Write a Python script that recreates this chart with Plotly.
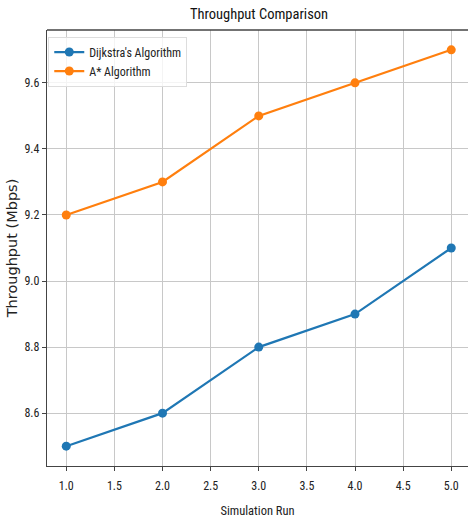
import plotly.graph_objects as go

runs = [1, 2, 3, 4, 5]
dijkstra = [8.5, 8.6, 8.8, 8.9, 9.1]
astar = [9.2, 9.3, 9.5, 9.6, 9.7]
x_ticks = [1.0, 1.5, 2.0, 2.5, 3.0, 3.5, 4.0, 4.5, 5.0]
y_ticks = [8.6, 8.8, 9.0, 9.2, 9.4, 9.6]

FONT = "Roboto Condensed"

fig = go.Figure()
fig.add_trace(go.Scatter(x=runs, y=dijkstra, mode="lines+markers", name="Dijkstra's Algorithm",
                         line=dict(color="#1f77b4", width=2.2), marker=dict(size=9, color="#1f77b4")))
fig.add_trace(go.Scatter(x=runs, y=astar, mode="lines+markers", name="A* Algorithm",
                         line=dict(color="#ff7f0e", width=2.2), marker=dict(size=9, color="#ff7f0e")))

W, H = 468, 518
L, R, T, B = 47, 0, 30, 52
fig.update_layout(
    width=W, height=H,
    margin=dict(l=L, r=R, t=T, b=B, autoexpand=False),
    paper_bgcolor="white", plot_bgcolor="white",
    font=dict(family=FONT, size=12, color="#222"),
    title=dict(text="Throughput Comparison", x=(47 + 471) / 2 / W, xanchor="center",
               y=1 - 14 / H, yanchor="middle", font=dict(size=14.5, family=FONT, color="#111")),
    showlegend=True,
    legend=dict(x=0.003, y=0.985, xanchor="left", yanchor="top",
                bgcolor="rgba(255,255,255,0.8)", bordercolor="#ddd", borderwidth=1,
                font=dict(size=12, family=FONT, color="#222"), tracegroupgap=0,
                itemwidth=30),
    hovermode=False,
)
fig.update_xaxes(
    range=[0.8, 0.8 + (468 - 47) / 96.25], tickvals=x_ticks, ticktext=[f"{v:.1f}" for v in x_ticks],
    showgrid=True, gridcolor="#c8c8c8", gridwidth=1, automargin=False,
    showline=True, linecolor="#444", linewidth=1.3, mirror=False,
    ticks="outside", ticklen=4, tickcolor="#444", zeroline=False, ticklabelstandoff=4,
    title=dict(text="Simulation Run", font=dict(size=12.5, family=FONT), standoff=14),
    tickfont=dict(size=12, family=FONT),
)
fig.update_yaxes(
    range=[8.44, 9.76], tickvals=y_ticks, ticktext=[f"{v:.1f}" for v in y_ticks],
    showgrid=True, gridcolor="#c8c8c8", gridwidth=1, automargin=False,
    showline=True, linecolor="#444", linewidth=1.3, mirror=False,
    ticks="outside", ticklen=4, tickcolor="#444", zeroline=False,
    title=dict(text="Throughput (Mbps)", font=dict(size=14.5, family="DejaVu Sans"), standoff=3),
    tickfont=dict(size=12, family=FONT),
)
# top spine
fig.add_shape(type="line", xref="paper", yref="paper", x0=0, x1=1, y0=1, y1=1,
              line=dict(color="#444", width=1.3))
fig.write_html("out.html", config={"displayModeBar": False},
               post_script="document.body.style.margin='0';")
